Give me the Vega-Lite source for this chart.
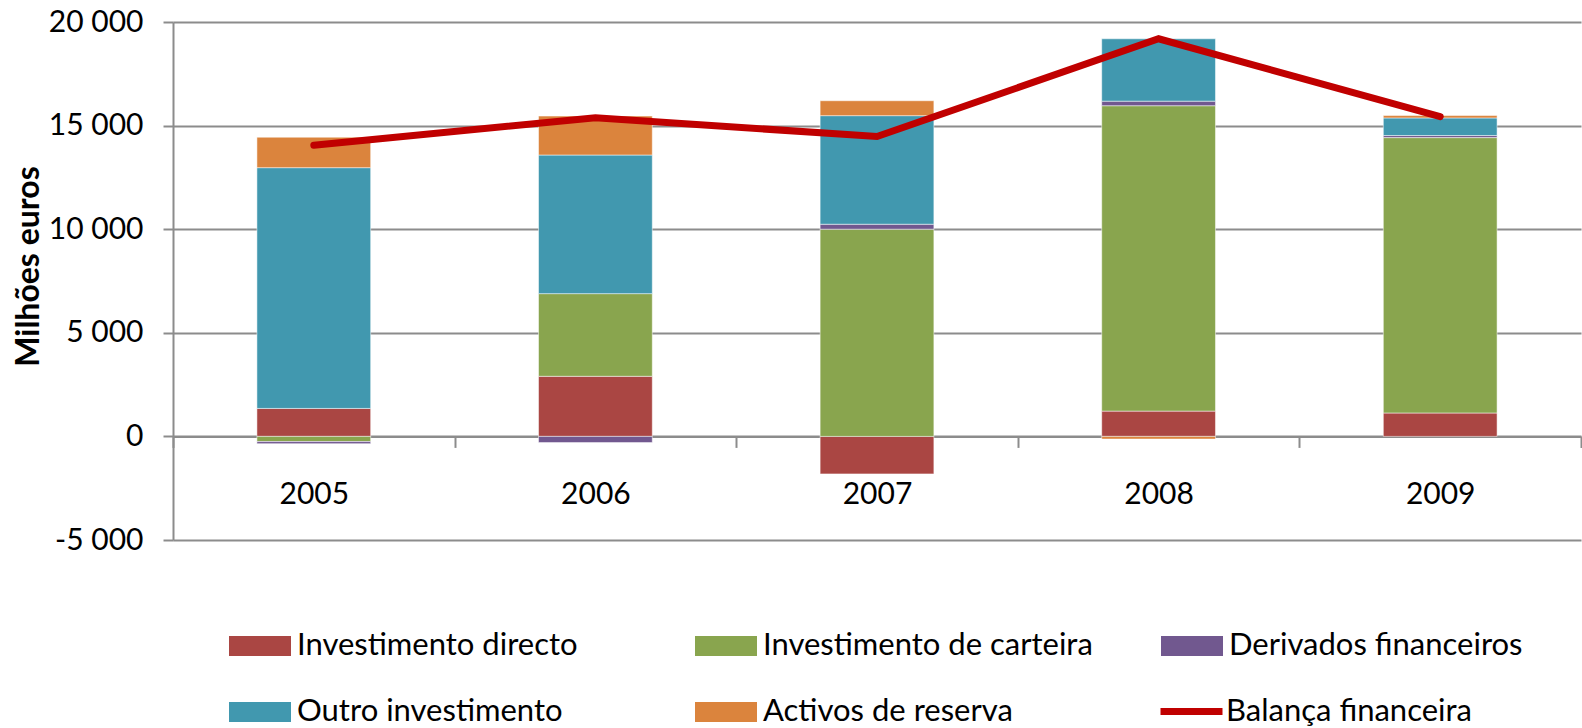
{
  "$schema": "https://vega.github.io/schema/vega-lite/v6.json",
  "width": 1408,
  "height": 518,
  "autosize": {"type": "none"},
  "padding": {"left": 173, "top": 22, "right": 1, "bottom": 188},
  "background": "white",
  "config": {
    "font": "Lato",
    "view": {"stroke": null},
    "axis": {"labelFont": "Lato", "titleFont": "Lato", "labelColor": "#000000", "titleColor": "#000000"}
  },
  "datasets": {
    "bars": [
      {"year": "2005", "series": "Investimento directo", "ord": 1, "value": 1350},
      {"year": "2005", "series": "Investimento de carteira", "ord": 2, "value": -250},
      {"year": "2005", "series": "Derivados financeiros", "ord": 3, "value": -100},
      {"year": "2005", "series": "Outro investimento", "ord": 4, "value": 11620},
      {"year": "2005", "series": "Activos de reserva", "ord": 5, "value": 1470},
      {"year": "2006", "series": "Investimento directo", "ord": 1, "value": 2900},
      {"year": "2006", "series": "Investimento de carteira", "ord": 2, "value": 3990},
      {"year": "2006", "series": "Derivados financeiros", "ord": 3, "value": -300},
      {"year": "2006", "series": "Outro investimento", "ord": 4, "value": 6690},
      {"year": "2006", "series": "Activos de reserva", "ord": 5, "value": 1880},
      {"year": "2007", "series": "Investimento directo", "ord": 1, "value": -1810},
      {"year": "2007", "series": "Investimento de carteira", "ord": 2, "value": 10000},
      {"year": "2007", "series": "Derivados financeiros", "ord": 3, "value": 240},
      {"year": "2007", "series": "Outro investimento", "ord": 4, "value": 5240},
      {"year": "2007", "series": "Activos de reserva", "ord": 5, "value": 720},
      {"year": "2008", "series": "Investimento directo", "ord": 1, "value": 1220},
      {"year": "2008", "series": "Investimento de carteira", "ord": 2, "value": 14740},
      {"year": "2008", "series": "Derivados financeiros", "ord": 3, "value": 220},
      {"year": "2008", "series": "Outro investimento", "ord": 4, "value": 3010},
      {"year": "2008", "series": "Activos de reserva", "ord": 5, "value": -130},
      {"year": "2009", "series": "Investimento directo", "ord": 1, "value": 1130},
      {"year": "2009", "series": "Investimento de carteira", "ord": 2, "value": 13290},
      {"year": "2009", "series": "Derivados financeiros", "ord": 3, "value": 100},
      {"year": "2009", "series": "Outro investimento", "ord": 4, "value": 850},
      {"year": "2009", "series": "Activos de reserva", "ord": 5, "value": 115}
    ],
    "balance": [
      {"year": "2005", "value": 14050},
      {"year": "2006", "value": 15380},
      {"year": "2007", "value": 14470},
      {"year": "2008", "value": 19190},
      {"year": "2009", "value": 15430}
    ]
  },
  "encoding": {
    "x": {
      "field": "year",
      "type": "nominal",
      "scale": {"paddingInner": 0, "paddingOuter": 0},
      "axis": {
        "title": null,
        "labelAngle": 0,
        "labelFontSize": 30,
        "labelPadding": 32,
        "tickBand": "extent",
        "tickSize": 11,
        "tickColor": "#8c8c8c",
        "tickWidth": 2,
        "domainColor": "#8c8c8c",
        "domainWidth": 2,
        "offset": -103.6
      }
    },
    "y": {
      "field": "value",
      "type": "quantitative",
      "scale": {"domain": [-5000, 20000], "nice": false, "zero": false},
      "axis": {
        "title": "Milhões euros",
        "titleFontSize": 32,
        "titleFontWeight": "bold",
        "titleAngle": -90,
        "titleX": -145,
        "titleY": 244,
        "titleAlign": "center",
        "titleBaseline": "middle",
        "values": [-5000, 0, 5000, 10000, 15000, 20000],
        "labelExpr": "(datum.value < 0 ? '-' : '') + replace(format(abs(datum.value), ','), ',', ' ')",
        "labelFontSize": 30,
        "labelPadding": 20,
        "tickSize": 10,
        "tickColor": "#8c8c8c",
        "tickWidth": 2,
        "domainColor": "#8c8c8c",
        "domainWidth": 2,
        "gridColor": "#8c8c8c",
        "gridWidth": 2
      }
    }
  },
  "layer": [
    {
      "data": {"name": "bars"},
      "mark": {"type": "bar", "width": {"band": 0.404}, "stroke": "#ffffff", "strokeOpacity": 0.5, "strokeWidth": 1},
      "encoding": {
        "y": {"field": "value", "type": "quantitative", "stack": "zero"},
        "order": {"field": "ord", "type": "quantitative"},
        "color": {
          "field": "series",
          "type": "nominal",
          "scale": {
            "domain": ["Investimento directo", "Investimento de carteira", "Derivados financeiros", "Outro investimento", "Activos de reserva"],
            "range": ["#AA4643", "#89A54E", "#71588F", "#4198AF", "#DB843D"]
          },
          "legend": {
            "title": null,
            "orient": "none",
            "legendX": 56,
            "legendY": 593,
            "direction": "horizontal",
            "columns": 3,
            "gridAlign": "all",
            "columnPadding": 68,
            "rowPadding": 20,
            "labelFont": "Lato",
            "labelFontSize": 31,
            "labelColor": "#000000",
            "labelOffset": 6,
            "labelLimit": 500,
            "symbolSize": 3844,
            "symbolType": "M-1,-0.32H1V0.32H-1Z",
            "symbolStrokeWidth": 0
          }
        }
      }
    },
    {
      "data": {"name": "balance"},
      "mark": {"type": "line", "strokeWidth": 7, "strokeCap": "round", "strokeJoin": "miter"},
      "encoding": {
        "y": {"field": "value", "type": "quantitative"},
        "stroke": {
          "datum": "Balança financeira",
          "type": "nominal",
          "scale": {"domain": ["Balança financeira"], "range": ["#C00000"]},
          "legend": {
            "title": null,
            "orient": "none",
            "legendX": 984,
            "legendY": 655,
            "labelFont": "Lato",
            "labelFontSize": 31,
            "labelColor": "#000000",
            "labelOffset": 0,
            "labelLimit": 500,
            "symbolType": "stroke",
            "symbolSize": 3844,
            "symbolStrokeWidth": 7,
            "symbolStrokeColor": "#C00000"
          }
        }
      }
    }
  ]
}
